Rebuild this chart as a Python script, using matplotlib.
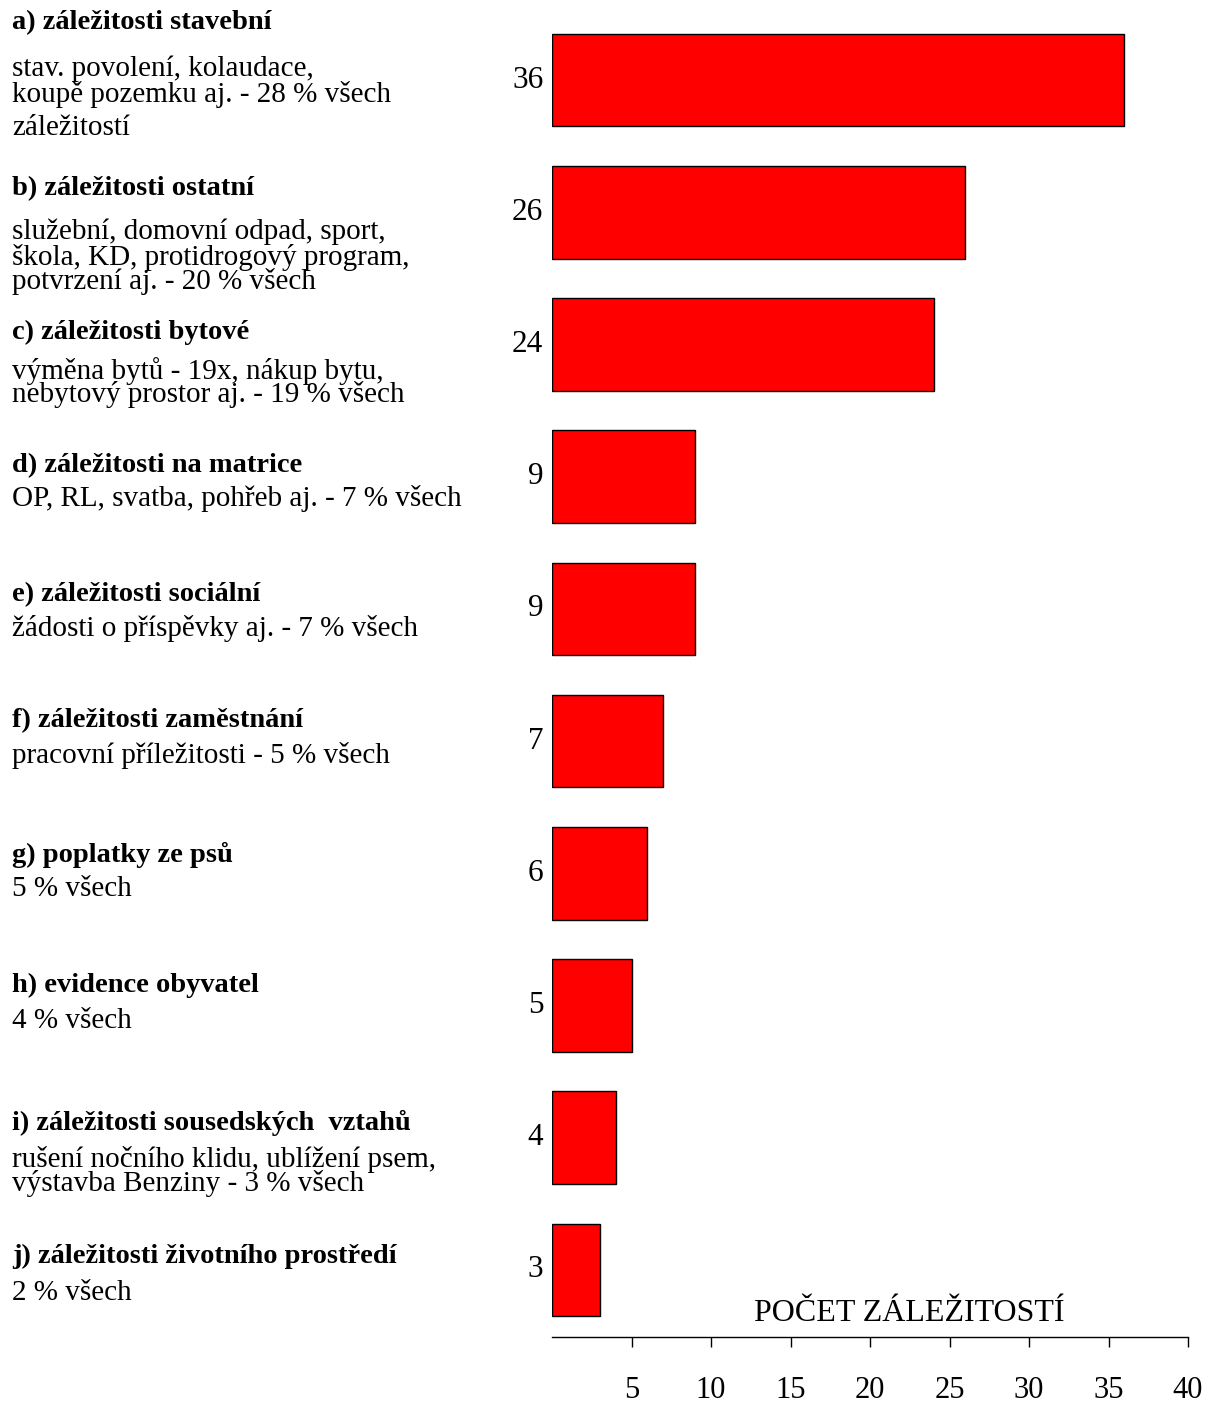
import matplotlib.pyplot as plt
from matplotlib.transforms import blended_transform_factory

plt.rcParams['font.family'] = ['Liberation Serif', 'DejaVu Serif']

# data
titles = [
    'a) záležitosti stavební',
    'b) záležitosti ostatní',
    'c) záležitosti bytové',
    'd) záležitosti na matrice',
    'e) záležitosti sociální',
    'f) záležitosti zaměstnání',
    'g) poplatky ze psů',
    'h) evidence obyvatel',
    'i) záležitosti sousedských  vztahů',
    'j) záležitosti životního prostředí',
]
descriptions = [
    ['stav. povolení, kolaudace,', 'koupě pozemku aj. - 28 % všech', 'záležitostí'],
    ['služební, domovní odpad, sport,', 'škola, KD, protidrogový program,', 'potvrzení aj. - 20 % všech'],
    ['výměna bytů - 19x, nákup bytu,', 'nebytový prostor aj. - 19 % všech'],
    ['OP, RL, svatba, pohřeb aj. - 7 % všech'],
    ['žádosti o příspěvky aj. - 7 % všech'],
    ['pracovní příležitosti - 5 % všech'],
    ['5 % všech'],
    ['4 % všech'],
    ['rušení nočního klidu, ublížení psem,', 'výstavba Benziny - 3 % všech'],
    ['2 % všech'],
]
counts = [36, 26, 24, 9, 9, 7, 6, 5, 4, 3]
xticks = [5, 10, 15, 20, 25, 30, 35, 40]
xlabel = 'POČET ZÁLEŽITOSTÍ'

# layout (pixels)
W, H = 1213, 1402
pitch = 132.2
shift = 3
title_dy = [-60, -27, -15, -14, -17, -23, -21, -23, -18, -17]
desc_dy = [[-14, 11, 45], [17, 42, 66], [24, 47], [19], [17], [11], [13], [12], [19, 43], [20]]

fig = plt.figure(figsize=(W / 100, H / 100), dpi=100)
ax = fig.add_axes([552 / W, 1 - 1337 / H, 636 / W, (1337 - 20) / H])

n = len(counts)
pos = list(range(n))
ax.barh(pos, counts, height=0.7, color='#ff0000', edgecolor='black', linewidth=1)
ax.set_xlim(0, 40)
ax.set_ylim(n - 1 + 67 / pitch, -60 / pitch)

for s in ['top', 'right', 'left']:
    ax.spines[s].set_visible(False)
ax.spines['bottom'].set_linewidth(1)
ax.set_yticks([])
ax.set_xticks(xticks)
ax.tick_params(axis='x', direction='out', length=7, width=1, pad=21, labelsize=22)

ax.text(22.5, n - 1 + 44 / pitch, xlabel, ha='center', va='center', fontsize=23)

tr = blended_transform_factory(fig.transFigure, ax.transData)
for i, c in enumerate(counts):
    ax.text(-0.55, i, str(c), ha='right', va='center', fontsize=22.5)
    ax.text(12 / W, i + (title_dy[i] + shift) / pitch, titles[i], transform=tr,
            ha='left', va='center', fontsize=20.5, fontweight='bold')
    for line, dy in zip(descriptions[i], desc_dy[i]):
        ax.text(12 / W, i + (dy + shift) / pitch, line, transform=tr,
                ha='left', va='center', fontsize=21)

fig.savefig('out.png', dpi=100)
